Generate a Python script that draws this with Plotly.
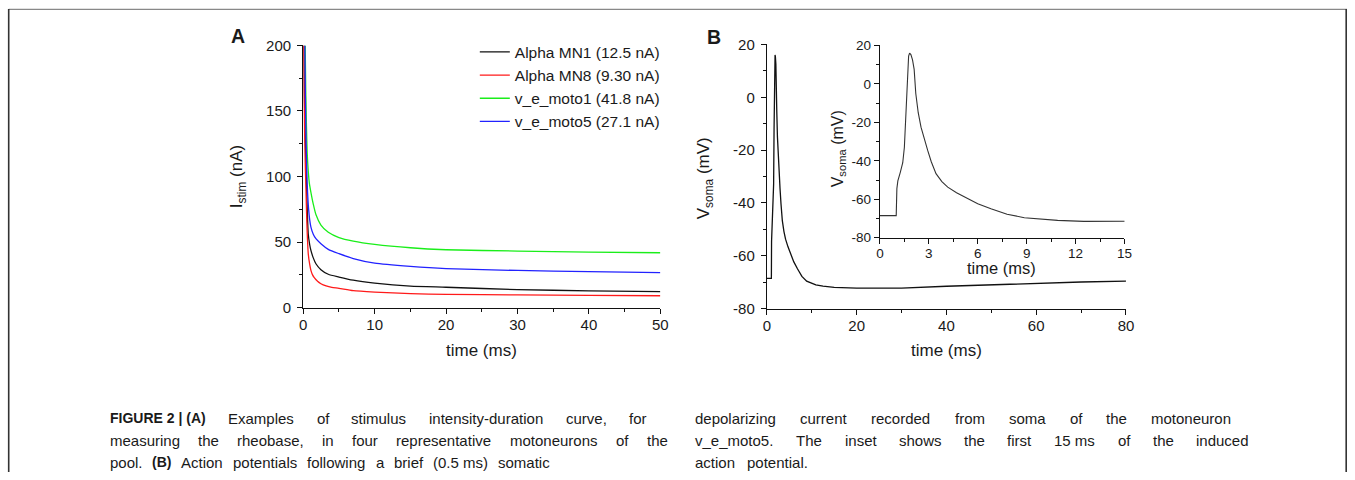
import plotly.graph_objects as go

W, H = 1355, 480

# ---------------- Panel A: strength-duration curves ----------------
mn1_t = [0.08, 0.15, 0.25, 0.37, 0.5, 0.7, 0.9, 1.07, 1.4, 1.77, 2.47, 3.5, 5, 7, 10, 15, 20, 30, 40, 50]
mn1_i = [200, 165, 135, 112, 84, 56, 48, 43.7, 38, 33.5, 29, 25.5, 23.4, 21, 18.8, 16.5, 15.6, 13.8, 12.9, 12.3]

mn8_t = [0.05, 0.12, 0.2, 0.3, 0.37, 0.5, 0.7, 0.9, 1.07, 1.3, 1.54, 2.0, 2.47, 3.2, 4, 5, 7, 10, 15, 20, 30, 40, 50]
mn8_i = [200, 160, 130, 105, 92, 65, 41, 33, 28.5, 25, 22.9, 20.2, 18.3, 16.6, 15.5, 14.8, 13, 11.9, 10.7, 10.2, 9.7, 9.4, 9.1]

moto1_t = [0.27, 0.35, 0.45, 0.55, 0.7, 0.85, 1.07, 1.4, 1.77, 2.47, 3.5, 5, 7, 10, 15, 20, 30, 40, 50]
moto1_i = [200, 165, 138, 118, 104, 95, 88, 79, 71, 63, 57.5, 53.5, 50.8, 48.3, 45.7, 44.2, 43.2, 42.4, 41.9]

moto5_t = [0.22, 0.3, 0.4, 0.5, 0.6, 0.75, 0.9, 1.07, 1.4, 1.77, 2.47, 3.5, 5, 7, 10, 15, 20, 30, 40, 50]
moto5_i = [200, 160, 125, 103, 88, 75, 67, 61.5, 56, 52.6, 48.8, 44.5, 41.2, 37.5, 34, 31.5, 29.8, 28.4, 27.5, 26.8]

names_a = ["Alpha MN1 (12.5 nA)", "Alpha MN8 (9.30 nA)", "v_e_moto1 (41.8 nA)", "v_e_moto5 (27.1 nA)"]
colors_a = ["#111111", "#ff1a1a", "#1aee1a", "#2222ff"]

# ---------------- Panel B: action potential (v_e_moto5) ----------------
ap_t = [0, 1.0, 1.04, 1.1, 1.25, 1.4, 1.5, 1.6, 1.7, 1.76, 1.82, 1.9, 2.0, 2.1, 2.2, 2.35, 2.52,
        2.7, 2.93, 3.15, 3.44, 3.8, 4.16, 4.7, 5.38, 6.0, 6.81, 7.8, 8.86, 9.8, 10.9, 12.5, 15.0,
        20, 25, 30, 40, 50, 60, 70, 80]
ap_v = [-68.5, -68.5, -54.5, -50.5, -46, -41, -33, -12, 8, 14.5, 16, 15.2, 12.5, 7.5, -5, -15, -22.5,
        -28.5, -34.6, -40.5, -46.7, -50.8, -53.7, -56.6, -59.7, -62.3, -64.9, -67.8, -69.6, -70.3, -71, -71.5, -71.9,
        -72.2, -72.3, -72.2, -71.5, -70.9, -70.3, -69.9, -69.6]

# tick values / labels
a_xticks = [0, 10, 20, 30, 40, 50]
a_yticks = [0, 50, 100, 150, 200]
b_xticks = [0, 20, 40, 60, 80]
v_ticks = [-80, -60, -40, -20, 0, 20]
v_labels = ["-80", "-60", "-40", "-20", "0", "20"]
i_xticks = [0, 3, 6, 9, 12, 15]

# photographed page vs figure pixels: out = S * fig + B  (measured), so invert it
SX, BX = 0.9909, 3.3
SY, BY = 0.9646, 8.6


def px(x):
    return min(max(((x - BX) / SX) / W, 0.0), 1.0)


def py(y):
    return min(max(1 - ((y - BY) / SY) / H, 0.0), 1.0)


fig = go.Figure()

series_a = [(mn1_t, mn1_i), (mn8_t, mn8_i), (moto1_t, moto1_i), (moto5_t, moto5_i)]
for (t, i), nm, c in zip(series_a, names_a, colors_a):
    fig.add_trace(go.Scatter(x=t, y=i, mode="lines", name=nm,
                             line=dict(color=c, width=1.3, shape="spline", smoothing=0.6),
                             xaxis="x", yaxis="y"))

fig.add_trace(go.Scatter(x=ap_t, y=ap_v, mode="lines", showlegend=False,
                         line=dict(color="#111111", width=1.3), xaxis="x2", yaxis="y2"))
fig.add_trace(go.Scatter(x=ap_t, y=ap_v, mode="lines", showlegend=False,
                         line=dict(color="#333333", width=1.1), xaxis="x3", yaxis="y3"))

TXT = "#1a1a1a"
FONT = "Liberation Sans, Arial, Helvetica, sans-serif"


def axis(vals, labels, mdtick, dom, anchor, fs=15, standoff=0):
    return dict(range=[vals[0], vals[-1]], domain=dom, anchor=anchor, showline=True,
                linecolor="#111", linewidth=1.3, ticks="outside", ticklen=5, tickwidth=1.2,
                tickcolor="#111", tickmode="array", tickvals=vals,
                ticktext=labels if labels else [str(v) for v in vals],
                showgrid=False, zeroline=False, ticklabelstandoff=standoff,
                tickfont=dict(family=FONT, size=fs, color=TXT),
                minor=dict(ticks="outside", ticklen=3, tickwidth=1, tickcolor="#111",
                           tickmode="linear", dtick=mdtick, tick0=vals[0], showgrid=False),
                fixedrange=True)


fig.update_layout(
    width=W, height=H,
    margin=dict(l=0, r=0, t=0, b=0),
    paper_bgcolor="white", plot_bgcolor="rgba(0,0,0,0)",
    font=dict(family=FONT, color=TXT),
    xaxis=axis(a_xticks, None, 5, [px(302.5), px(659.5)], "y", standoff=-2),
    yaxis=axis(a_yticks, None, 25, [py(307.3), py(45)], "x", standoff=3),
    xaxis2=axis(b_xticks, None, 10, [px(766), px(1125)], "y2", standoff=-2),
    yaxis2=axis(v_ticks, v_labels, 10, [py(308.3), py(44)], "x2", standoff=3),
    xaxis3=axis(i_xticks, None, 1.5, [px(879), px(1123.5)], "y3", fs=13.5, standoff=-2),
    yaxis3=axis(v_ticks, v_labels, 10, [py(237.3), py(45)], "x3", fs=13.5, standoff=0),
    legend=dict(x=px(474), y=py(35), xanchor="left", yanchor="top",
                bgcolor="rgba(0,0,0,0)", borderwidth=0, tracegroupgap=0,
                font=dict(family=FONT, size=15.5, color=TXT), itemwidth=30),
    showlegend=True,
)

ann = []


def add_text(x, y, text, size, bold=False, angle=0, xanchor="center", yanchor="middle"):
    ann.append(dict(x=px(x), y=py(y), xref="paper", yref="paper", text=text, showarrow=False,
                    textangle=angle, xanchor=xanchor, yanchor=yanchor,
                    font=dict(family=FONT, size=size, color=TXT, weight="bold" if bold else "normal")))


# panel letters
add_text(237, 36, "A", 19.5, bold=True)
add_text(713, 37, "B", 19.5, bold=True)
# axis titles
add_text(481, 350, "time (ms)", 17)
add_text(238, 176, "I<sub>stim</sub> (nA)", 17, angle=-90)
add_text(945.5, 350, "time (ms)", 17)
add_text(705, 178, "V<sub>soma</sub> (mV)", 17, angle=-90)
add_text(1001, 268, "time (ms)", 16.5)
add_text(837, 148, "V<sub>soma</sub> (mV)", 16, angle=-90)

# ---------------- caption (justified, word by word) ----------------
REG = {' ': 278, '!': 278, '(': 333, ')': 333, ',': 278, '-': 333, '.': 278, '|': 260, '_': 556,
       'A': 667, 'B': 667, 'C': 722, 'D': 722, 'E': 667, 'F': 611, 'G': 778, 'H': 722, 'I': 278,
       'M': 833, 'N': 722, 'R': 722, 'T': 611, 'U': 722,
       'a': 556, 'b': 556, 'c': 500, 'd': 556, 'e': 556, 'f': 278, 'g': 556, 'h': 556, 'i': 222,
       'j': 222, 'k': 500, 'l': 222, 'm': 833, 'n': 556, 'o': 556, 'p': 556, 'q': 556, 'r': 333,
       's': 500, 't': 278, 'u': 556, 'v': 500, 'w': 722, 'x': 500, 'y': 500, 'z': 500}
BOLD = {' ': 278, '(': 333, ')': 333, '|': 280, 'A': 722, 'B': 722, 'E': 667, 'F': 611,
        'G': 778, 'I': 278, 'R': 722, 'U': 722}

CAP_SIZE = 15
BOLD_SIZE = 14


def tw(s, bold):
    tab = BOLD if bold else REG
    size = BOLD_SIZE if bold else CAP_SIZE
    return sum(tab.get(ch, 556) for ch in s) * size / 1000.0 / SX


cap_lines = [
    ([("FIGURE 2 | (A)", True), ("Examples", False), ("of", False), ("stimulus", False),
      ("intensity-duration", False), ("curve,", False), ("for", False)], 108, 645, 418),
    ([("measuring", False), ("the", False), ("rheobase,", False), ("in", False), ("four", False),
      ("representative", False), ("motoneurons", False), ("of", False), ("the", False)], 108, 666, 440),
    ([("pool.", False), ("(B)", True), ("Action", False), ("potentials", False), ("following", False),
      ("a", False), ("brief", False), ("(0.5 ms)", False), ("somatic", False)], 108, 548, 462),
    ([("depolarizing", False), ("current", False), ("recorded", False), ("from", False),
      ("soma", False), ("of", False), ("the", False), ("motoneuron", False)], 693, 1230, 418),
    ([("v_e_moto5.", False), ("The", False), ("inset", False), ("shows", False), ("the", False),
      ("first", False), ("15 ms", False), ("of", False), ("the", False), ("induced", False)], 693, 1247, 440),
    ([("action", False), ("potential.", False)], 693, 807, 462),
]

for words, x0, x1, y in cap_lines:
    widths = [tw(w, b) for w, b in words]
    gap = (x1 - x0 - sum(widths)) / (len(words) - 1)
    x = x0
    for (w, b), wd in zip(words, widths):
        ann.append(dict(x=px(x), y=py(y), xref="paper", yref="paper", text=w, showarrow=False,
                        xanchor="left", yanchor="middle", borderpad=0,
                        font=dict(family=FONT, size=BOLD_SIZE if b else CAP_SIZE, color=TXT,
                                  weight="bold" if b else "normal")))
        x += wd + gap

fig.update_layout(annotations=ann)

# outer frame
shapes = [
    dict(type="line", xref="paper", yref="paper", x0=px(8), x1=px(1352), y0=py(8) - 0.001,
         y1=py(8) - 0.001, line=dict(color="#888888", width=1.2)),
    dict(type="line", xref="paper", yref="paper", x0=px(8), x1=px(8), y0=py(8), y1=py(480),
         line=dict(color="#333333", width=1.6)),
    dict(type="line", xref="paper", yref="paper", x0=px(1352) - 0.0006, x1=px(1352) - 0.0006,
         y0=py(8), y1=py(480), line=dict(color="#333333", width=1.6)),
]
fig.update_layout(shapes=shapes)

fig.write_html(
    "out.html",
    config={"displayModeBar": False},
    post_script=(
        "document.documentElement.style.margin='0';"
        "document.body.style.margin='0';document.body.style.padding='0';"
        "document.documentElement.style.overflow='hidden';document.body.style.overflow='hidden';"
        "var d=document.querySelector('.plotly-graph-div');"
        "if(d){d.style.position='fixed';d.style.left='0px';d.style.top='0px';}"
    ),
)
